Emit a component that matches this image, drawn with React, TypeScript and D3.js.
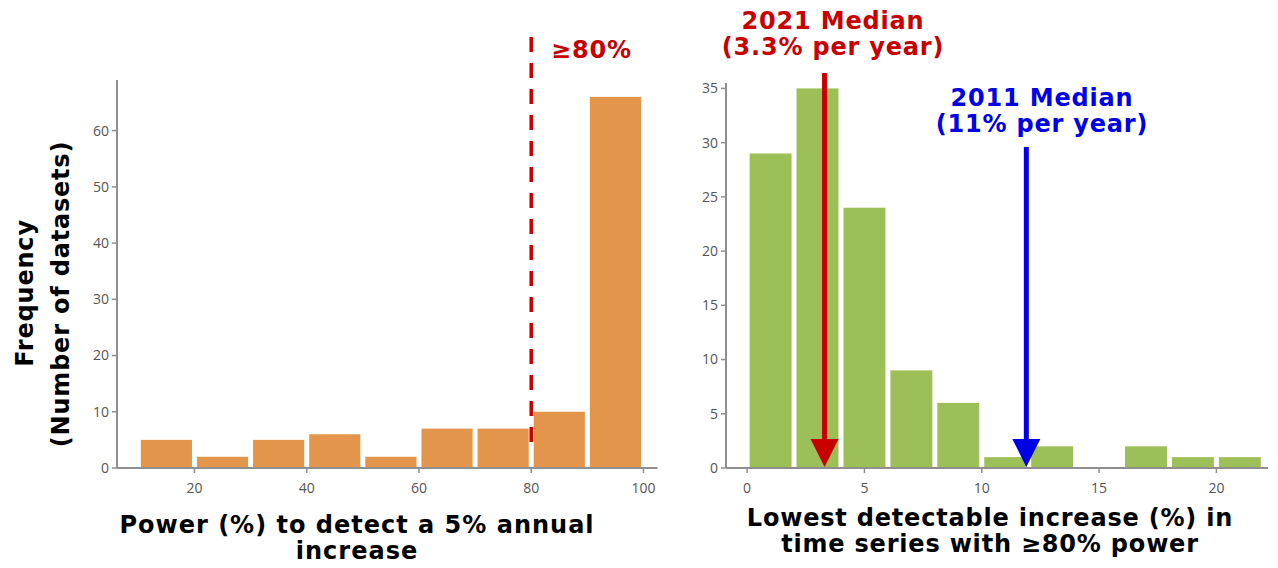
import React from 'react';
import * as d3 from 'd3';

// left panel: power to detect a 5% annual increase
const powerEdges = [10, 20, 30, 40, 50, 60, 70, 80, 90, 100];
const powerCounts = [5, 2, 5, 6, 2, 7, 7, 10, 66];
const powerXTicks = [20, 40, 60, 80, 100];
const powerYTicks = [0, 10, 20, 30, 40, 50, 60];
const powerThreshold = 80;

// right panel: lowest detectable increase
const lddEdges = [0, 2, 4, 6, 8, 10, 12, 14, 16, 18, 20, 22];
const lddCounts = [29, 35, 24, 9, 6, 1, 2, 0, 2, 1, 1];
const lddXTicks = [0, 5, 10, 15, 20];
const lddYTicks = [0, 5, 10, 15, 20, 25, 30, 35];
const median2021 = 3.3;
const median2011 = 11.9;

const W = 1278;
const H = 568;
const orange = '#e2954b';
const green = '#9cbf57';
const red = '#c80000';
const blue = '#0000e6';
const axisCol = '#8f8f8f';
const tickCol = '#555';
const bold = '"DejaVu Sans", Verdana, sans-serif';
const tickFont = '"Open Sans", sans-serif';

const lx = d3.scaleLinear().domain([6.2, 102.5]).range([117, 657.5]);
const ly = d3.scaleLinear().domain([0, 69]).range([468, 80]);
const rx = d3.scaleLinear().domain([-0.9, 22.2]).range([726, 1268]);
const ry = d3.scaleLinear().domain([0, 35.5]).range([468, 83]);

type Sc = d3.ScaleLinear<number, number>;

function Axes({x, y, xt, yt}: {x: Sc; y: Sc; xt: number[]; yt: number[]}) {
  const [x0, x1] = x.range();
  const [y0, y1] = y.range();
  return (
    <g>
      <line x1={x0} x2={x0} y1={y1} y2={y0} stroke={axisCol} strokeWidth={2} />
      <line x1={x0} x2={x1} y1={y0} y2={y0} stroke={axisCol} strokeWidth={2} />
      {yt.map(t => (
        <g key={'y' + t} transform={`translate(${x0},${y(t)})`}>
          <line x1={-5} x2={0} stroke={axisCol} strokeWidth={1.5} />
          <text x={-8} dy="0.35em" textAnchor="end" fontSize={14} fill={tickCol} fontFamily={tickFont}>{t}</text>
        </g>
      ))}
      {xt.map(t => (
        <g key={'x' + t} transform={`translate(${x(t)},${y0})`}>
          <line y1={0} y2={5} stroke={axisCol} strokeWidth={1.5} />
          <text y={25} textAnchor="middle" fontSize={14} fill={tickCol} fontFamily={tickFont}>{t}</text>
        </g>
      ))}
    </g>
  );
}

function Bars({x, y, edges, counts, fill}: {x: Sc; y: Sc; edges: number[]; counts: number[]; fill: string}) {
  return (
    <g>
      {counts.map((c, i) => c > 0 && (
        <rect key={i}
          x={x(edges[i]) + 2.5}
          width={x(edges[i + 1]) - x(edges[i]) - 5}
          y={y(c)}
          height={y(0) - y(c) - 1}
          fill={fill} />
      ))}
    </g>
  );
}

function Arrow({x, top, tip, color}: {x: number; top: number; tip: number; color: string}) {
  const hw = 14, hh = 28;
  return (
    <g>
      <line x1={x} x2={x} y1={top} y2={tip - hh + 2} stroke={color} strokeWidth={5} />
      <path d={`M${x - hw},${tip - hh}L${x + hw},${tip - hh}L${x},${tip}Z`} fill={color} />
    </g>
  );
}

function Label({x, y, lines, color = '#000', gap = 26, ls = 0.8}: {x: number; y: number; lines: string[]; color?: string; gap?: number; ls?: number}) {
  return (
    <text x={x} y={y} textAnchor="middle" fontFamily={bold} fontWeight="bold" fontSize={24} letterSpacing={ls} fill={color}>
      {lines.map((l, i) => <tspan key={i} x={x} dy={i === 0 ? 0 : gap}>{l}</tspan>)}
    </text>
  );
}

export default function App() {
  return (
    <svg width={W} height={H} style={{position: 'absolute', left: 0, top: 0, background: '#fff'}}>
      {/* left panel */}
      <Bars x={lx} y={ly} edges={powerEdges} counts={powerCounts} fill={orange} />
      <Axes x={lx} y={ly} xt={powerXTicks} yt={powerYTicks} />
      <line x1={lx(powerThreshold)} x2={lx(powerThreshold)} y1={37} y2={450}
        stroke={red} strokeWidth={3.5} strokeDasharray="15,11" />
      <text x={551} y={58} fontFamily={bold} fontWeight="bold" fontSize={24} letterSpacing={0.8} fill={red}>≥80%</text>
      <Label x={357} y={533} lines={['Power (%) to detect a 5% annual', 'increase']} gap={26} ls={1} />
      <g transform="translate(33,293) rotate(-90)">
        <text textAnchor="middle" fontFamily={bold} fontWeight="bold" fontSize={24} letterSpacing={0.8}>Frequency</text>
      </g>
      <g transform="translate(69,294) rotate(-90)">
        <text textAnchor="middle" fontFamily={bold} fontWeight="bold" fontSize={24} letterSpacing={0.8}>(Number of datasets)</text>
      </g>

      {/* right panel */}
      <Bars x={rx} y={ry} edges={lddEdges} counts={lddCounts} fill={green} />
      <Axes x={rx} y={ry} xt={lddXTicks} yt={lddYTicks} />
      <Arrow x={rx(median2021)} top={73} tip={467} color={red} />
      <Arrow x={rx(median2011)} top={147} tip={467} color={blue} />
      <Label x={833} y={29} lines={['2021 Median', '(3.3% per year)']} color={red} />
      <Label x={1042} y={106} lines={['2011 Median', '(11% per year)']} color={blue} />
      <Label x={990} y={526} lines={['Lowest detectable increase (%) in', 'time series with ≥80% power']} />
    </svg>
  );
}
